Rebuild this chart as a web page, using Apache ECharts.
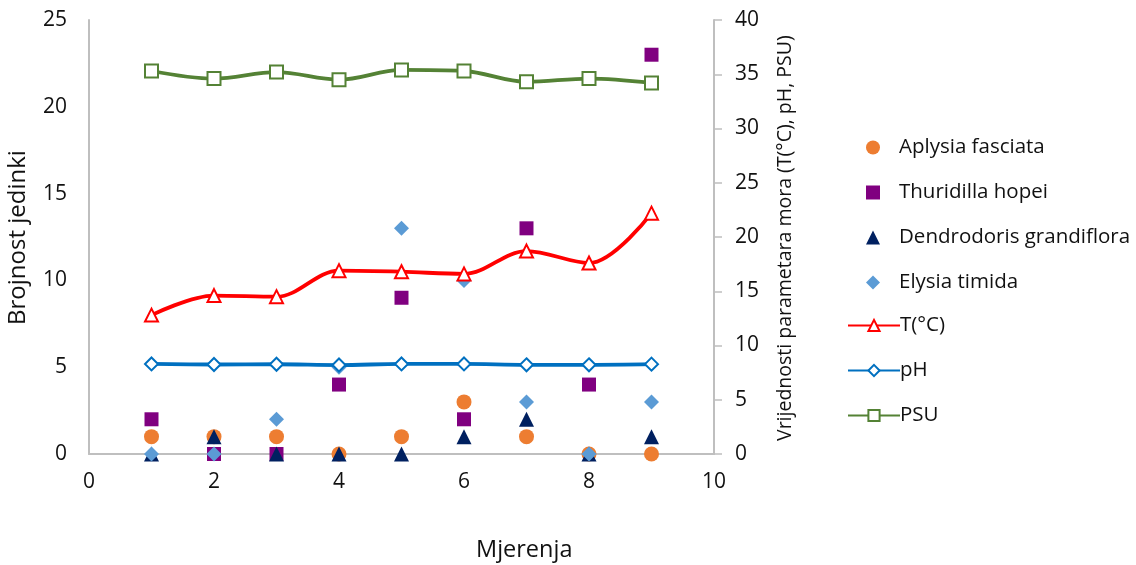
<!DOCTYPE html>
<html><head><meta charset="utf-8">
<script src="https://cdn.jsdelivr.net/npm/echarts@6/dist/echarts.min.js"></script>
<style>html,body{margin:0;padding:0;background:#fff}#c{width:1136px;height:565px}</style>
</head><body><div id="c"></div>
<script>
const mjerenja = [1,2,3,4,5,6,7,8,9];
const aplysia = [1,1,1,0,1,3,1,0,0];
const thuridilla = [2,0,0,4,9,2,13,4,23];
const dendrodoris = [0,1,0,0,0,1,2,0,1];
const elysia = [0,0,2,5,13,10,3,0,3];
const temp = [12.8,14.6,14.5,16.9,16.8,16.6,18.7,17.6,22.2];
const ph = [8.3,8.25,8.27,8.2,8.3,8.3,8.22,8.22,8.28];
const psu = [35.3,34.6,35.2,34.5,35.4,35.3,34.3,34.6,34.2];
const names = ['Aplysia fasciata','Thuridilla hopei','Dendrodoris grandiflora','Elysia timida','T(°C)','pH','PSU'];

const pair = a => mjerenja.map((x,i)=>[x,a[i]]);
const font = 'Open Sans';
const chart = echarts.init(document.getElementById('c'));
function sc(name, data, symbol, color, size){
  return {name, type:'scatter', data:pair(data), symbol, symbolSize:size, yAxisIndex:0,
    itemStyle:{color, opacity:1}, emphasis:{disabled:true}};
}
function ln(name, data, symbol, color, size){
  return {name, type:'line', data:pair(data), yAxisIndex:1, smooth:0.35, symbol, symbolSize:size,
    showSymbol:true, lineStyle:{color, width:3.8}, itemStyle:{color:'#fff', borderColor:color, borderWidth:2},
    emphasis:{disabled:true}};
}
const legendText = {fontSize:20.5, color:'#111', fontFamily:font};
const lgTop = 132;
chart.setOption({
  animation:false,
  textStyle:{fontFamily:font},
  grid:{left:89, right:422, top:20, bottom:111},
  xAxis:{type:'value', min:0, max:10, interval:2,
    axisLine:{lineStyle:{color:'#bfbfbf', width:2}}, axisTick:{show:false}, splitLine:{show:false},
    axisLabel:{color:'#111', fontSize:21, margin:18, fontFamily:font}},
  yAxis:[
    {type:'value', min:0, max:25, interval:5, position:'left',
      axisLine:{show:true, lineStyle:{color:'#bfbfbf', width:2}}, axisTick:{show:false}, splitLine:{show:false},
      axisLabel:{color:'#111', fontSize:21, margin:22, fontFamily:font}},
    {type:'value', min:0, max:40, interval:5, position:'right',
      axisLine:{show:true, lineStyle:{color:'#bfbfbf', width:2}}, axisTick:{show:true, length:8, lineStyle:{color:'#bfbfbf', width:1.5}}, splitLine:{show:false},
      axisLabel:{color:'#111', fontSize:21, margin:21, fontFamily:font}}
  ],
  legend:[
    {orient:'vertical', left:861, top:lgTop, itemGap:24, itemWidth:14, itemHeight:14,
      textStyle:Object.assign({padding:[0,0,0,14]}, legendText), data:names.slice(0,4)},
    {orient:'vertical', left:842, top:lgTop+4*44.5, itemGap:24, itemWidth:52, itemHeight:14,
      textStyle:Object.assign({padding:[0,0,0,-5]}, legendText), data:names.slice(4)}
  ],
  graphic:[
    {type:'text', top:538, left:476, style:{text:'Mjerenja', fontSize:23.5, fontFamily:font, fill:'#111'}},
    {type:'text', rotation:Math.PI/2, x:6, y:325, style:{text:'Brojnost jedinki', fontSize:24, fontFamily:font, fill:'#111'}},
    {type:'text', rotation:Math.PI/2, x:775, y:441, style:{text:'Vrijednosti parametara mora (T(°C), pH, PSU)', fontSize:19.5, fontFamily:font, fill:'#111'}}
  ],
  series:[
    sc(names[0], aplysia, 'circle', '#ED7D31', 15),
    sc(names[1], thuridilla, 'rect', '#800080', 14),
    sc(names[2], dendrodoris, 'triangle', '#002060', 15),
    sc(names[3], elysia, 'diamond', '#5B9BD5', 15),
    ln(names[4], temp, 'triangle', '#FF0000', 13),
    ln(names[5], ph, 'diamond', '#0070C0', 13),
    ln(names[6], psu, 'rect', '#548235', 13)
  ]
});
</script></body></html>
